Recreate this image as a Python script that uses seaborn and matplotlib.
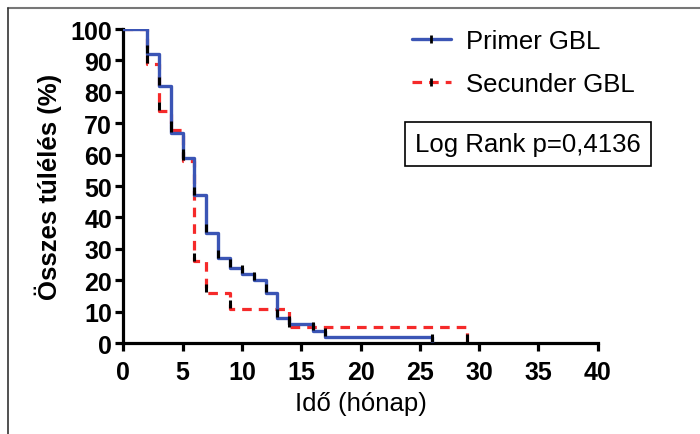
import numpy as np
import pandas as pd
import seaborn as sns
import matplotlib.pyplot as plt
from matplotlib.lines import Line2D

# --- adatok (leolvasva) ---
primer_t = [0, 2, 3, 4, 5, 6, 7, 8, 9, 10, 11, 12, 13, 14, 16, 17, 26]
primer_s = [100, 92, 82, 67, 59, 47, 35, 27, 24, 22, 20, 16, 8, 6, 4, 2, 0]
secunder_t = [0, 2, 3, 4, 5, 6, 7, 9, 14, 29]
secunder_s = [100, 89, 74, 68, 58, 26, 16, 11, 5, 0]
x_ticks = [0, 5, 10, 15, 20, 25, 30, 35, 40]
y_ticks = [0, 10, 20, 30, 40, 50, 60, 70, 80, 90, 100]

BLUE = '#3b55b5'
RED = '#f52a2a'

sns.set_style('ticks')
plt.rcParams['font.family'] = ['Liberation Sans', 'DejaVu Sans']
# tiszta fekete tengelyek és szövegek
for key in ['text.color', 'axes.edgecolor', 'axes.labelcolor', 'xtick.color', 'ytick.color']:
    plt.rcParams[key] = 'black'

df_p = pd.DataFrame({'ido': primer_t, 'tul': primer_s})
df_s = pd.DataFrame({'ido': secunder_t, 'tul': secunder_s})

fig = plt.figure(figsize=(7, 4.35), dpi=100)
ax = fig.add_axes([0.176, 0.209, 0.678, 0.722])

sns.lineplot(data=df_s, x='ido', y='tul', ax=ax, color=RED, lw=2.3,
             linestyle=(0, (3, 2.2)), drawstyle='steps-post', estimator=None, zorder=2)
sns.lineplot(data=df_p, x='ido', y='tul', ax=ax, color=BLUE, lw=2.4,
             drawstyle='steps-post', estimator=None, zorder=3)

# cenzor jelek (fekete függőleges pálcikák a lépcsőknél)
for t, s in [(df_s['ido'][1:], df_s['tul'][1:]), (df_p['ido'][1:], df_p['tul'][1:])]:
    ax.plot(t, np.array(s) + 1.5, ls='none', marker='|', ms=6, mew=2.2, color='black', zorder=4)

ax.set_xlim(0, 40)
ax.set_ylim(0, 100)
ax.set_xticks(x_ticks)
ax.set_yticks(y_ticks)
ax.tick_params(axis='both', direction='out', length=6, width=2.3, labelsize=18)
ax.tick_params(axis='x', pad=6)
ax.tick_params(axis='y', pad=2)
for lab in ax.get_xticklabels() + ax.get_yticklabels():
    lab.set_fontweight('bold')
for side in ['left', 'bottom']:
    ax.spines[side].set_linewidth(2.3)
sns.despine(ax=ax)

ax.set_xlabel('Idő (hónap)', fontsize=18.5, labelpad=5)
ax.set_ylabel('Összes túlélés (%)', fontsize=18.5, fontweight='bold', labelpad=6)

handles = [
    Line2D([0], [0], color=BLUE, lw=2.4, marker='|', ms=6, mew=2, mec='black'),
    Line2D([0], [0], color=RED, lw=2.3, ls=(0, (3, 2.2)), marker='|', ms=6, mew=2, mec='black'),
]
ax.legend(handles, ['Primer GBL', 'Secunder GBL'], loc='upper left', bbox_to_anchor=(0.56, 1.075),
          frameon=False, fontsize=18.5, handlelength=1.5, handletextpad=0.6,
          numpoints=1, labelspacing=0.75)

ax.text(0.615, 0.634, 'Log Rank p=0,4136', transform=ax.transAxes, fontsize=18.5, va='center',
        bbox=dict(boxstyle='square,pad=0.4', fc='white', ec='black', lw=1.2))

# keret a kép körül
fig.add_artist(Line2D([0.011, 1.0], [1 - 9 / 435, 1 - 9 / 435], transform=fig.transFigure,
                      color='#777777', lw=1.5))
fig.add_artist(Line2D([0.011, 0.011], [0, 1 - 9 / 435], transform=fig.transFigure,
                      color='#333333', lw=1.2))

fig.savefig('out.png', dpi=100)
